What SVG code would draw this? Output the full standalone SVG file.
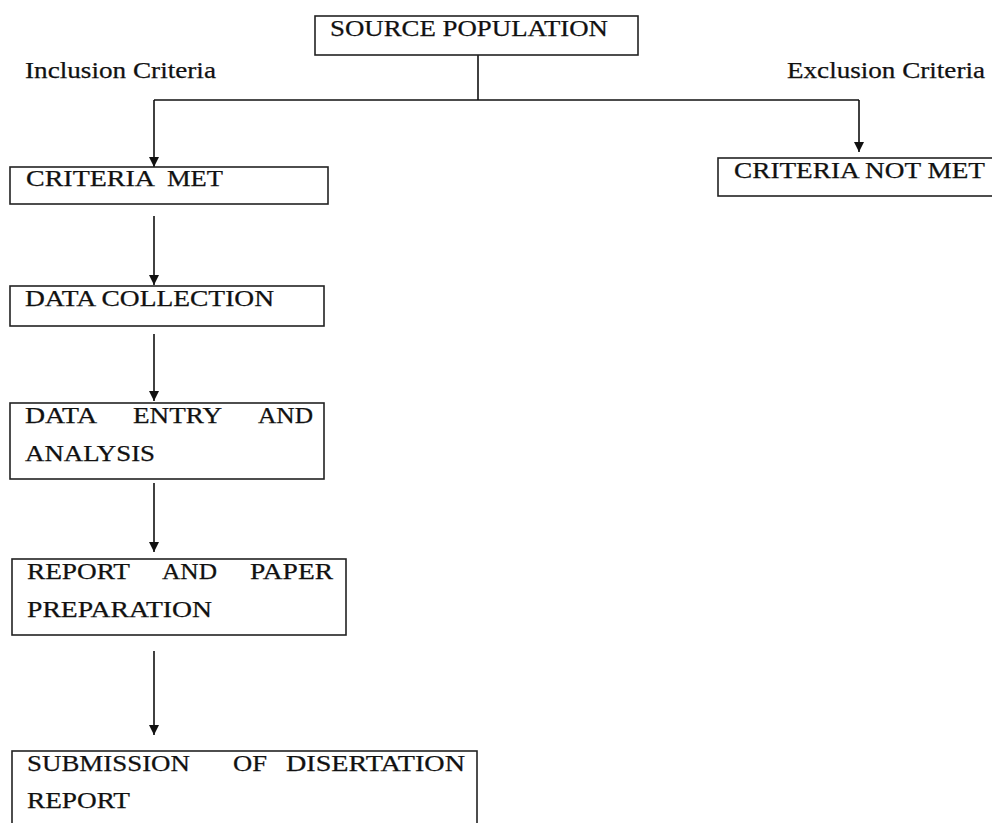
<svg xmlns="http://www.w3.org/2000/svg" width="992" height="823" viewBox="0 0 992 823">
<style>
  .box { fill: #fff; stroke: #222; stroke-width: 1.6; }
  .t { font-family: "Liberation Serif", "Times New Roman", serif; font-size: 23px; fill: #111; stroke: #111; stroke-width: 0.25; }
  .ln { fill: none; stroke: #111; stroke-width: 1.6; }
</style>
<defs>
  <marker id="ah" markerWidth="12" markerHeight="12" refX="10" refY="6" orient="auto" markerUnits="userSpaceOnUse" viewBox="0 0 12 12">
    <path d="M0,1 L10,6 L0,11 Z" fill="#111"/>
  </marker>
</defs>
<rect width="992" height="823" fill="#fff"/>

<text class="t" x="25" y="78" textLength="191" lengthAdjust="spacingAndGlyphs">Inclusion Criteria</text>
<text class="t" x="787" y="78" textLength="198" lengthAdjust="spacingAndGlyphs">Exclusion Criteria</text>

<g id="connectors">
  <polyline class="ln" points="478,55 478,100"/>
  <polyline class="ln" points="154,100 859,100"/>
  <line class="ln" x1="154" y1="100" x2="154" y2="167" marker-end="url(#ah)"/>
  <line class="ln" x1="859" y1="100" x2="859" y2="152" marker-end="url(#ah)"/>
  <line class="ln" x1="154" y1="216" x2="154" y2="285" marker-end="url(#ah)"/>
  <line class="ln" x1="154" y1="334" x2="154" y2="401" marker-end="url(#ah)"/>
  <line class="ln" x1="154" y1="483" x2="154" y2="552" marker-end="url(#ah)"/>
  <line class="ln" x1="154" y1="651" x2="154" y2="735" marker-end="url(#ah)"/>
</g>

<g id="source">
  <rect class="box" x="315" y="16" width="323" height="39"/>
  <text class="t" x="330" y="36" textLength="278" lengthAdjust="spacingAndGlyphs">SOURCE POPULATION</text>
</g>

<g id="criteria-met">
  <rect class="box" x="10" y="167" width="318" height="37"/>
  <text class="t" x="26" y="186" textLength="129" lengthAdjust="spacingAndGlyphs">CRITERIA</text>
  <text class="t" x="167" y="186" textLength="56" lengthAdjust="spacingAndGlyphs">MET</text>
</g>

<g id="criteria-not-met">
  <rect class="box" x="718" y="158" width="290" height="38"/>
  <text class="t" x="734" y="178" textLength="251" lengthAdjust="spacingAndGlyphs">CRITERIA NOT MET</text>
</g>

<g id="data-collection">
  <rect class="box" x="10" y="286" width="314" height="40"/>
  <text class="t" x="25" y="306" textLength="249" lengthAdjust="spacingAndGlyphs">DATA COLLECTION</text>
</g>

<g id="data-entry">
  <rect class="box" x="10" y="403" width="314" height="76"/>
  <text class="t" x="25" y="423" textLength="72" lengthAdjust="spacingAndGlyphs">DATA</text>
  <text class="t" x="133" y="423" textLength="89" lengthAdjust="spacingAndGlyphs">ENTRY</text>
  <text class="t" x="258" y="423" textLength="55" lengthAdjust="spacingAndGlyphs">AND</text>
  <text class="t" x="25" y="461" textLength="130" lengthAdjust="spacingAndGlyphs">ANALYSIS</text>
</g>

<g id="report-prep">
  <rect class="box" x="12" y="559" width="334" height="76"/>
  <text class="t" x="27" y="579" textLength="103" lengthAdjust="spacingAndGlyphs">REPORT</text>
  <text class="t" x="162" y="579" textLength="55" lengthAdjust="spacingAndGlyphs">AND</text>
  <text class="t" x="250" y="579" textLength="83" lengthAdjust="spacingAndGlyphs">PAPER</text>
  <text class="t" x="27" y="617" textLength="185" lengthAdjust="spacingAndGlyphs">PREPARATION</text>
</g>

<g id="submission">
  <rect class="box" x="12" y="751" width="465" height="90"/>
  <text class="t" x="27" y="771" textLength="163" lengthAdjust="spacingAndGlyphs">SUBMISSION</text>
  <text class="t" x="233" y="771" textLength="34" lengthAdjust="spacingAndGlyphs">OF</text>
  <text class="t" x="286" y="771" textLength="179" lengthAdjust="spacingAndGlyphs">DISERTATION</text>
  <text class="t" x="27" y="808" textLength="103" lengthAdjust="spacingAndGlyphs">REPORT</text>
</g>
</svg>
